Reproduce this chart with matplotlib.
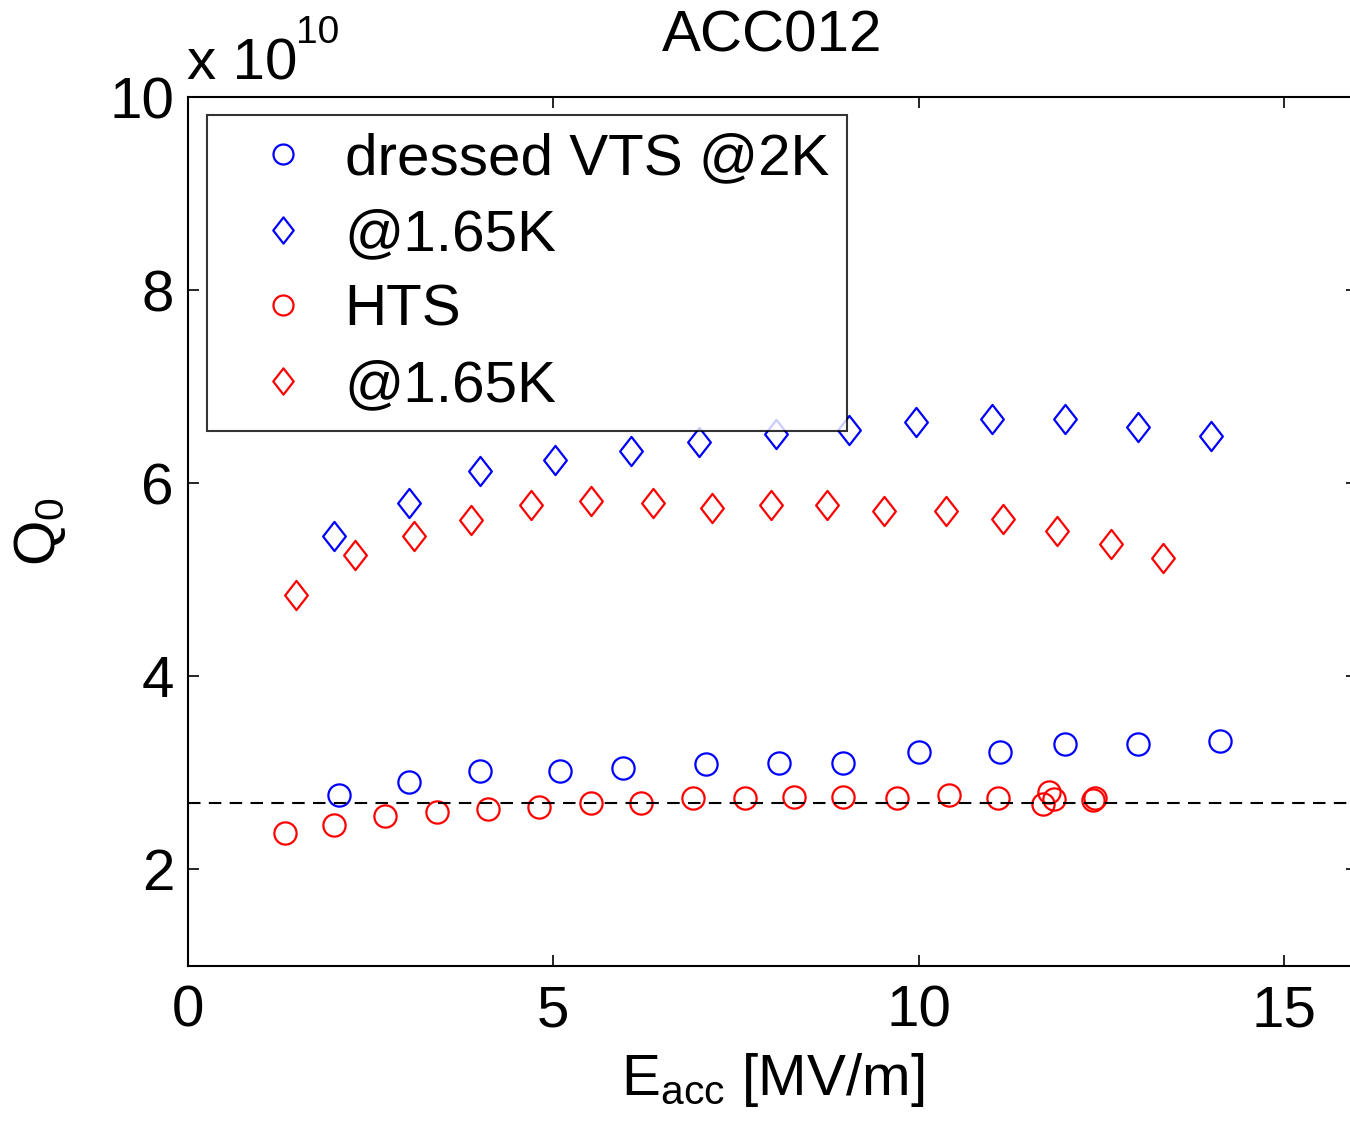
import numpy as np
import matplotlib
matplotlib.use("Agg")
import matplotlib.pyplot as plt
from matplotlib.path import Path

plt.rcParams['font.family'] = ['Liberation Sans', 'DejaVu Sans']
plt.rcParams['mathtext.fontset'] = 'custom'
plt.rcParams['mathtext.rm'] = 'Liberation Sans'
plt.rcParams['mathtext.it'] = 'Liberation Sans'

# Data (Q0 in units of 1e10)
vts2k_E = [2.06, 3.03, 4.00, 5.09, 5.95, 7.09, 8.09, 8.97, 10.01, 11.12, 12.0, 13.0, 14.12]
vts2k_Q = [2.77, 2.91, 3.02, 3.02, 3.05, 3.09, 3.10, 3.10, 3.22, 3.22, 3.30, 3.30, 3.33]

vts165_E = [2.00, 3.02, 3.99, 5.02, 6.06, 6.99, 8.05, 9.05, 9.97, 11.0, 12.0, 13.0, 14.0]
vts165_Q = [5.45, 5.79, 6.13, 6.24, 6.33, 6.43, 6.51, 6.55, 6.63, 6.66, 6.66, 6.58, 6.49]

hts2k_E = [1.33, 2.00, 2.70, 3.41, 4.11, 4.81, 5.51, 6.20, 6.91, 7.62, 8.30, 8.97, 9.71,
           10.41, 11.09, 11.70, 11.78, 11.85, 12.38, 12.42]
hts2k_Q = [2.38, 2.46, 2.55, 2.60, 2.63, 2.65, 2.69, 2.69, 2.74, 2.74, 2.75, 2.75, 2.74,
           2.77, 2.74, 2.68, 2.80, 2.73, 2.72, 2.74]

hts165_E = [1.48, 2.29, 3.10, 3.88, 4.69, 5.51, 6.36, 7.17, 7.98, 8.75, 9.53, 10.38, 11.15,
            11.89, 12.63, 13.34]
hts165_Q = [4.84, 5.26, 5.45, 5.62, 5.77, 5.82, 5.79, 5.74, 5.77, 5.77, 5.71, 5.71, 5.63,
            5.51, 5.37, 5.23]

ref_Q = 2.69
labels = ["dressed VTS @2K", "@1.65K", "HTS", "@1.65K"]

FS = 42
W, H = 1350, 1121
fig = plt.figure(figsize=(W / 100, H / 100), dpi=100)
ax = fig.add_axes([188 / W, (H - 966) / H, (1357 - 188) / W, (966 - 97) / H])

diamond = Path([(0, 1), (0.78, 0), (0, -1), (-0.78, 0), (0, 1)],
               [Path.MOVETO, Path.LINETO, Path.LINETO, Path.LINETO, Path.CLOSEPOLY])

ax.plot(vts2k_E, vts2k_Q, linestyle='none', marker='o', ms=16, mfc='none',
        mec='#0000ff', mew=1.6, label=labels[0])
ax.plot(vts165_E, vts165_Q, linestyle='none', marker=diamond, ms=21, mfc='none',
        mec='#0000ff', mew=1.6, label=labels[1])
ax.plot(hts2k_E, hts2k_Q, linestyle='none', marker='o', ms=16, mfc='none',
        mec='#ff0000', mew=1.6, label=labels[2])
ax.plot(hts165_E, hts165_Q, linestyle='none', marker=diamond, ms=21, mfc='none',
        mec='#ff0000', mew=1.6, label=labels[3])

ax.axhline(ref_Q, color='black', linestyle=(0, (6, 4)), linewidth=1.5)

ax.set_xlim(0, 16)
ax.set_ylim(1, 10)
ax.set_xticks([0, 5, 10, 15])
ax.set_yticks([2, 4, 6, 8, 10])
ax.tick_params(axis='both', direction='in', length=8, width=1.2, labelsize=FS,
               top=True, right=True)
ax.tick_params(axis='x', pad=13)
ax.tick_params(axis='y', pad=10)
for s in ax.spines.values():
    s.set_linewidth(1.5)

ax.set_title("ACC012", fontsize=FS, pad=33)
ax.set_xlabel("E$_{\\mathrm{acc}}$ [MV/m]", fontsize=FS, labelpad=9)
ax.set_ylabel("Q$_{\\mathrm{0}}$", fontsize=FS, labelpad=30)

# exponent label (MATLAB style)
fig.text(187 / W, (H - 80) / H, "x 10", fontsize=FS, ha='left', va='baseline')
fig.text(296 / W, (H - 43) / H, "10", fontsize=28, ha='left', va='baseline')

leg = ax.legend(loc='upper left', bbox_to_anchor=(207 / W, (H - 115) / H),
                bbox_transform=fig.transFigure, fontsize=FS, frameon=True,
                fancybox=False, edgecolor='black', borderaxespad=0,
                handlelength=2.0, handletextpad=0.06, labelspacing=0.37,
                borderpad=0.3, markerscale=0.9)
leg.get_frame().set_linewidth(1.5)

fig.savefig("out.png", dpi=100)
